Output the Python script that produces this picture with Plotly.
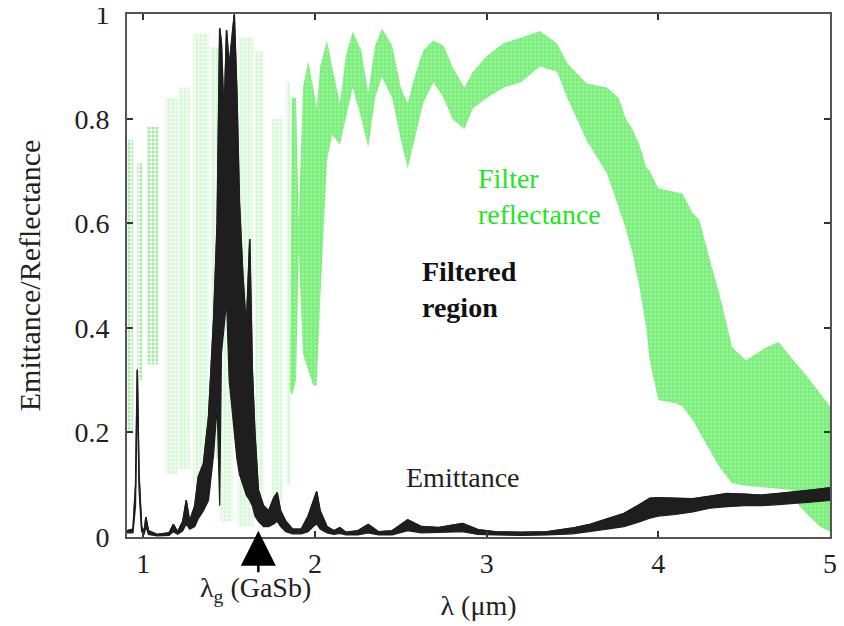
import plotly.graph_objects as go

# ---------------- data ----------------
# Emittance band (upper / lower edge of the rapidly oscillating trace)
emit_x = [0.905, 0.94, 0.955, 0.965, 0.975, 0.99, 1.005, 1.015, 1.03, 1.08, 1.15, 1.175, 1.20, 1.23,
          1.25, 1.27, 1.30, 1.32, 1.35, 1.38, 1.41, 1.43, 1.445, 1.455, 1.47, 1.485, 1.50, 1.515,
          1.53, 1.545, 1.56, 1.58, 1.60, 1.62, 1.635, 1.65, 1.67, 1.70, 1.73, 1.76, 1.78, 1.80,
          1.83, 1.87, 1.92, 1.96, 1.99, 2.01, 2.03, 2.07, 2.11, 2.145, 2.18, 2.25, 2.31, 2.37,
          2.45, 2.54, 2.62, 2.72, 2.86, 2.95, 3.05, 3.2, 3.35, 3.5, 3.6, 3.7, 3.8, 3.88, 3.95,
          4.0, 4.1, 4.2, 4.3, 4.4, 4.5, 4.6, 4.7, 4.8, 4.9, 5.0]
emit_hi = [0.012, 0.015, 0.10, 0.32, 0.12, 0.02, 0.01, 0.038, 0.012, 0.005, 0.008, 0.024, 0.01, 0.03,
           0.07, 0.03, 0.06, 0.115, 0.14, 0.23, 0.42, 0.6, 0.973, 0.945, 0.8, 0.97, 0.9, 0.95,
           1.0, 0.85, 0.64, 0.5, 0.4, 0.57, 0.32, 0.2, 0.09, 0.06, 0.05, 0.075, 0.085, 0.05,
           0.03, 0.015, 0.015, 0.04, 0.07, 0.087, 0.05, 0.02, 0.012, 0.018, 0.009, 0.012, 0.024, 0.01,
           0.012, 0.033, 0.02, 0.018, 0.026, 0.014, 0.01, 0.009, 0.01, 0.017, 0.024, 0.034, 0.045, 0.06, 0.074,
           0.075, 0.074, 0.073, 0.078, 0.083, 0.082, 0.08, 0.083, 0.086, 0.09, 0.094]
emit_lo = [0.008, 0.008, 0.06, 0.30, 0.09, 0.01, 0.005, 0.02, 0.005, 0.002, 0.003, 0.01, 0.005, 0.012,
           0.025, 0.015, 0.02, 0.035, 0.05, 0.07, 0.16, 0.25, 0.06, 0.35, 0.4, 0.45, 0.3, 0.25,
           0.2, 0.15, 0.12, 0.1, 0.08, 0.07, 0.06, 0.04, 0.03, 0.02, 0.02, 0.025, 0.03, 0.02,
           0.01, 0.006, 0.006, 0.01, 0.02, 0.025, 0.015, 0.008, 0.005, 0.007, 0.004, 0.004, 0.008, 0.004,
           0.004, 0.012, 0.008, 0.008, 0.01, 0.005, 0.004, 0.003, 0.004, 0.006, 0.01, 0.015, 0.02, 0.028, 0.036,
           0.04, 0.043, 0.048, 0.055, 0.058, 0.06, 0.06, 0.062, 0.064, 0.067, 0.07]

# Filter reflectance, dense band beyond 1.85 um (upper / lower edge)
refl_x = [1.855, 1.865, 1.89, 1.905, 1.93, 1.96, 1.99, 2.01, 2.03, 2.07, 2.10, 2.145, 2.18, 2.22,
          2.27, 2.31, 2.35, 2.39, 2.45, 2.50, 2.54, 2.58, 2.63, 2.69, 2.75, 2.80, 2.87, 2.92,
          3.0, 3.1, 3.2, 3.31, 3.41, 3.47, 3.58, 3.70, 3.77, 3.81, 3.85, 3.89, 3.93, 3.95, 4.0,
          4.1, 4.14, 4.2, 4.24, 4.30, 4.355, 4.43, 4.51, 4.59, 4.63, 4.70, 4.78, 4.82, 4.86, 4.94, 5.0]
refl_hi = [0.30, 0.84, 0.84, 0.60, 0.86, 0.91, 0.86, 0.82, 0.90, 0.95, 0.90, 0.83, 0.92, 0.967,
           0.93, 0.85, 0.94, 0.973, 0.94, 0.86, 0.83, 0.88, 0.93, 0.95, 0.94, 0.90, 0.86, 0.89,
           0.92, 0.945, 0.955, 0.968, 0.944, 0.906, 0.868, 0.86, 0.84, 0.80, 0.78, 0.75, 0.707, 0.70, 0.667,
           0.66, 0.657, 0.62, 0.606, 0.53, 0.466, 0.363, 0.338, 0.355, 0.363, 0.373, 0.34, 0.325, 0.31, 0.275, 0.25]
refl_lo = [0.28, 0.27, 0.30, 0.55, 0.35, 0.32, 0.29, 0.29, 0.45, 0.72, 0.77, 0.75, 0.80, 0.86,
           0.80, 0.745, 0.84, 0.88, 0.84, 0.76, 0.705, 0.76, 0.83, 0.87, 0.84, 0.80, 0.78, 0.82,
           0.84, 0.86, 0.87, 0.90, 0.89, 0.84, 0.76, 0.696, 0.63, 0.59, 0.543, 0.478, 0.40, 0.338, 0.262,
           0.256, 0.25, 0.224, 0.20, 0.166, 0.134, 0.103, 0.098, 0.096, 0.094, 0.092, 0.09, 0.06, 0.046, 0.02, 0.01]

# Filter reflectance fringes below 1.85 um (each fringe: left, right, top, bottom)
fringe_mid_left = [0.907, 0.965, 1.02]
fringe_mid_right = [0.94, 0.995, 1.09]
fringe_mid_top = [0.76, 0.715, 0.785]
fringe_mid_bot = [0.20, 0.30, 0.33]

fringe_pale_left = [1.13, 1.205, 1.29, 1.39, 1.45, 1.55, 1.65, 1.75, 1.83]
fringe_pale_right = [1.20, 1.27, 1.38, 1.44, 1.52, 1.64, 1.70, 1.81, 1.855]
fringe_pale_top = [0.84, 0.86, 0.963, 0.937, 0.90, 0.956, 0.93, 0.80, 0.87]
fringe_pale_bot = [0.12, 0.13, 0.10, 0.15, 0.03, 0.02, 0.05, 0.07, 0.10]

x_ticks = [1, 2, 3, 4, 5]
y_ticks = [0, 0.2, 0.4, 0.6, 0.8, 1]
y_tick_text = ["0", "0.2", "0.4", "0.6", "0.8", "1"]

FONT = "Liberation Serif, Times New Roman, serif"
GREEN = "#00e000"
TEXT_GREEN = "#1ee61e"
MID_GREEN = "#4fd84f"
PALE_GREEN = "#b0f0b0"

fig = go.Figure()


def fringe_trace(lefts, rights, tops, bots, color, solidity):
    xs, ys = [], []
    for l, r, t, b in zip(lefts, rights, tops, bots):
        xs += [l, l, r, r, l, None]
        ys += [b, t, t, b, b, None]
    return go.Scatter(x=xs, y=ys, mode="lines", line=dict(width=0), fill="toself",
                      fillcolor="rgba(0,0,0,0)",
                      fillpattern=dict(shape=".", fgcolor=color, bgcolor="rgba(0,0,0,0)",
                                       size=4, solidity=solidity),
                      hoverinfo="skip", showlegend=False)


fig.add_trace(fringe_trace(fringe_pale_left, fringe_pale_right, fringe_pale_top, fringe_pale_bot,
                           PALE_GREEN, 0.7))
fig.add_trace(fringe_trace(fringe_mid_left, fringe_mid_right, fringe_mid_top, fringe_mid_bot,
                           MID_GREEN, 0.6))

# dense reflectance band
fig.add_trace(go.Scatter(x=refl_x + refl_x[::-1], y=refl_hi + refl_lo[::-1], mode="lines",
                         line=dict(width=0), fill="toself", fillcolor="rgba(0,0,0,0)",
                         fillpattern=dict(shape=".", fgcolor=GREEN, bgcolor="rgba(0,0,0,0)",
                                          size=4, solidity=0.85),
                         hoverinfo="skip", showlegend=False))

# emittance band
fig.add_trace(go.Scatter(x=emit_x + emit_x[::-1], y=emit_hi + emit_lo[::-1], mode="lines",
                         line=dict(width=1.2, color="#1e1e1e"), fill="toself", fillcolor="#1e1e1e",
                         hoverinfo="skip", showlegend=False))
fig.add_trace(go.Scatter(x=emit_x, y=emit_hi, mode="lines", line=dict(width=1.5, color="#1e1e1e"),
                         hoverinfo="skip", showlegend=False))

# the page adds an 8 px body margin, so the figure is 8 px smaller and the margins compensate
fig.update_layout(
    width=836, height=618,
    margin=dict(l=119, r=14, t=6, b=89),
    paper_bgcolor="white", plot_bgcolor="white",
    font=dict(family=FONT, size=28, color="#222222"),
    showlegend=False,
    xaxis=dict(range=[0.905, 5.0], tickvals=x_ticks, ticktext=[str(v) for v in x_ticks],
               ticks="inside", ticklen=6, tickwidth=1.5, tickcolor="#333333",
               showline=True, linewidth=2, linecolor="#555555", mirror="ticks",
               showgrid=False, zeroline=False, automargin=False, ticklabeloverflow="allow",
               title=dict(text="λ (μm)", standoff=18, font=dict(size=28))),
    yaxis=dict(range=[0, 1.0005], tickvals=y_ticks, ticktext=y_tick_text,
               ticks="inside", ticklen=6, tickwidth=1.5, tickcolor="#333333",
               showline=True, linewidth=2, linecolor="#555555", mirror="ticks",
               showgrid=False, zeroline=False, automargin=False, ticklabelstandoff=10,
               ticklabeloverflow="allow",
               title=dict(text="Emittance/Reflectance", standoff=25, font=dict(size=30))),
)

fig.add_annotation(x=2.936, y=0.652, xref="x", yref="y", text="Filter<br>reflectance",
                   showarrow=False, xanchor="left", yanchor="middle", align="left",
                   font=dict(color=TEXT_GREEN, size=28, family=FONT))
fig.add_annotation(x=2.61, y=0.474, xref="x", yref="y", text="<b>Filtered<br>region</b>",
                   showarrow=False, xanchor="left", yanchor="middle", align="left",
                   font=dict(color="#111111", size=28, family=FONT))
fig.add_annotation(x=2.517, y=0.113, xref="x", yref="y", text="Emittance",
                   showarrow=False, xanchor="left", yanchor="middle",
                   font=dict(color="#222222", size=28, family=FONT))
# band-gap arrow
fig.add_annotation(x=1.67, y=0.012, xref="x", yref="y", text="", showarrow=True,
                   ax=0, ay=43, arrowhead=2, arrowsize=2.8, arrowwidth=2.5, arrowcolor="#000000")
fig.add_annotation(x=1.655, y=-0.1, xref="x", yref="paper", text="λ<sub>g</sub> (GaSb)",
                   showarrow=False, xanchor="center", yanchor="middle",
                   font=dict(color="#222222", size=28, family=FONT))

fig.write_html("out.html")
